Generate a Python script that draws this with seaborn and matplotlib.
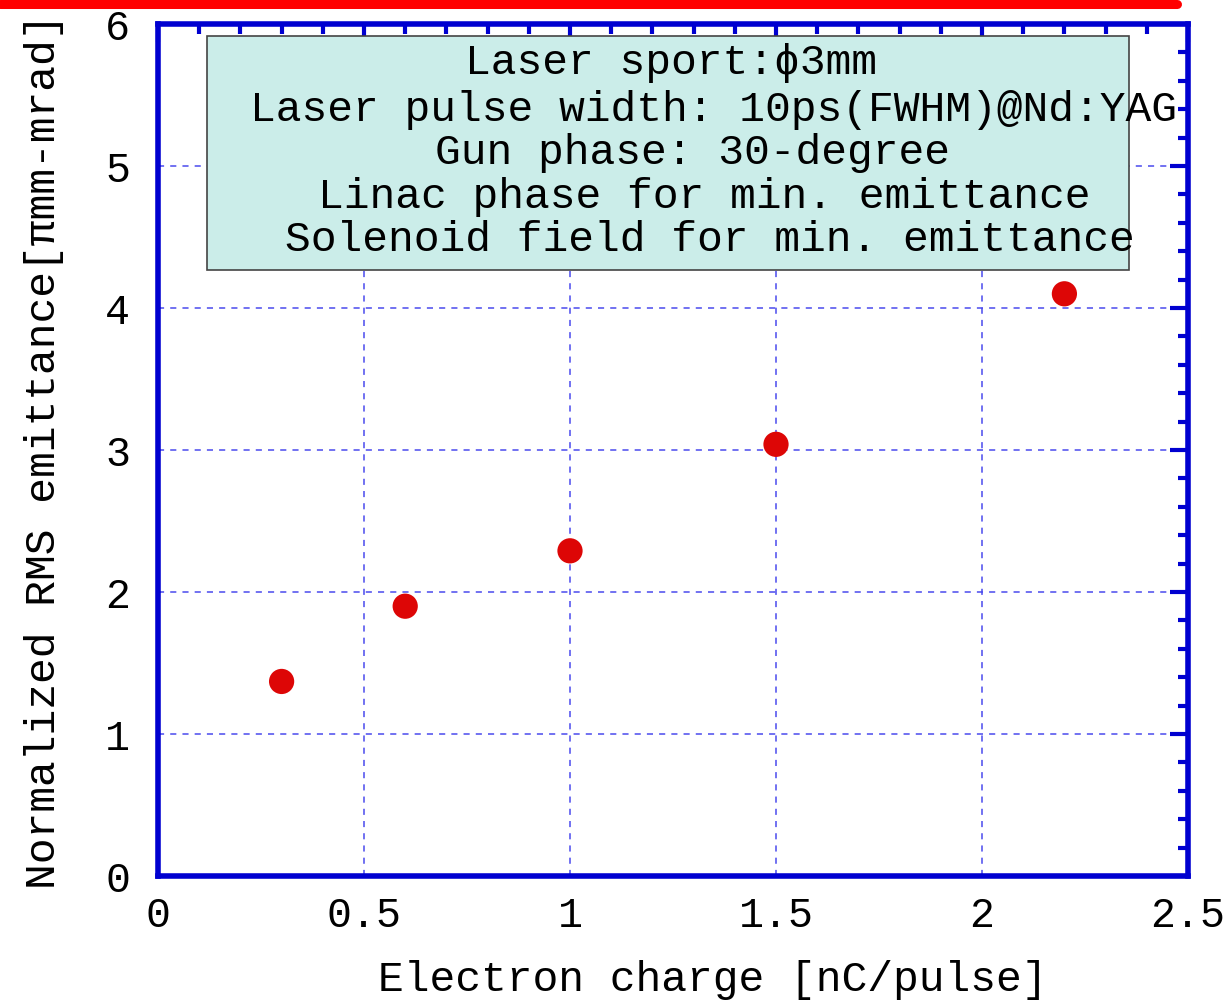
import matplotlib
matplotlib.use("Agg")
import matplotlib.pyplot as plt
from matplotlib.lines import Line2D
from matplotlib.patches import Rectangle
from matplotlib.ticker import MultipleLocator
import seaborn as sns
import pandas as pd

# Measured emittance versus bunch charge
charge_nc = [0.3, 0.6, 1.0, 1.5, 2.2]
emittance = [1.37, 1.90, 2.29, 3.04, 4.10]

x_ticks = [0, 0.5, 1, 1.5, 2, 2.5]
x_tick_labels = ["0", "0.5", "1", "1.5", "2", "2.5"]
y_ticks = [0, 1, 2, 3, 4, 5, 6]
y_tick_labels = ["0", "1", "2", "3", "4", "5", "6"]

conditions = [
    "Laser sport:ϕ3mm",
    "Laser pulse width: 10ps(FWHM)@Nd:YAG",
    "Gun phase: 30-degree",
    "Linac phase for min. emittance",
    "Solenoid field for min. emittance",
]

df = pd.DataFrame({"charge": charge_nc, "emittance": emittance})

sns.set_theme(style="white")
FONT = ["Liberation Mono", "DejaVu Sans Mono", "DejaVu Sans"]
plt.rcParams["font.family"] = FONT

BLUE = "#0000d0"
GRID = "#4a4aee"
RED_PT = "#dd0606"
FS = 31

fig = plt.figure(figsize=(12.27, 10.03), dpi=100)
ax = fig.add_axes([158 / 1227, 1 - 877 / 1003, 1030 / 1227, 852 / 1003])

sns.scatterplot(data=df, x="charge", y="emittance", ax=ax, s=330,
                color=RED_PT, edgecolor="none", zorder=5, clip_on=False)

ax.set_xlim(0, 2.5)
ax.set_ylim(0, 6)
ax.set_xticks(x_ticks)
ax.set_xticklabels(x_tick_labels)
ax.set_yticks(y_ticks)
ax.set_yticklabels(y_tick_labels)
ax.xaxis.set_minor_locator(MultipleLocator(0.1))
ax.yaxis.set_minor_locator(MultipleLocator(0.2))

ax.tick_params(which="both", direction="in", color=BLUE, top=True, right=True,
               labeltop=False, labelright=False)
ax.tick_params(which="major", length=13, width=3, labelsize=FS - 1, labelcolor="black")
ax.tick_params(which="minor", length=7.5, width=3)
ax.tick_params(axis="x", which="major", pad=14)
ax.tick_params(axis="y", which="major", pad=20)

for sp in ax.spines.values():
    sp.set_color(BLUE)
    sp.set_linewidth(4)
    sp.set_visible(True)

ax.grid(True, which="major", color=GRID, linestyle=(0, (4, 4)), linewidth=1.1)
ax.set_axisbelow(True)

ax.set_xlabel("Electron charge [nC/pulse]", fontsize=FS, color="black")
ax.xaxis.set_label_coords(0.539, -0.097)
ax.set_ylabel("Normalized RMS emittance[πmm-mrad]", fontsize=FS, labelpad=30,
              color="black")

# Conditions panel
ax.add_patch(Rectangle((0.0476, 0.711), 0.8954, 0.275, transform=ax.transAxes,
                       facecolor="#cbede9", edgecolor="#444444", linewidth=1.2,
                       zorder=3))
line_x = [0.298, 0.0893, 0.269, 0.155, 0.123]
line_y = [0.955, 0.900, 0.850, 0.798, 0.748]
for txt, lx, ly in zip(conditions, line_x, line_y):
    ax.text(lx, ly, txt, transform=ax.transAxes, ha="left", va="center",
            fontsize=FS, color="black", zorder=4, family=FONT)

# Red rule across the top of the page
fig.add_artist(Line2D([0, 1177 / 1227], [1 - 4.5 / 1003] * 2,
                      color="#ff0000", linewidth=6.5, transform=fig.transFigure))

fig.savefig("out.png", dpi=100)
